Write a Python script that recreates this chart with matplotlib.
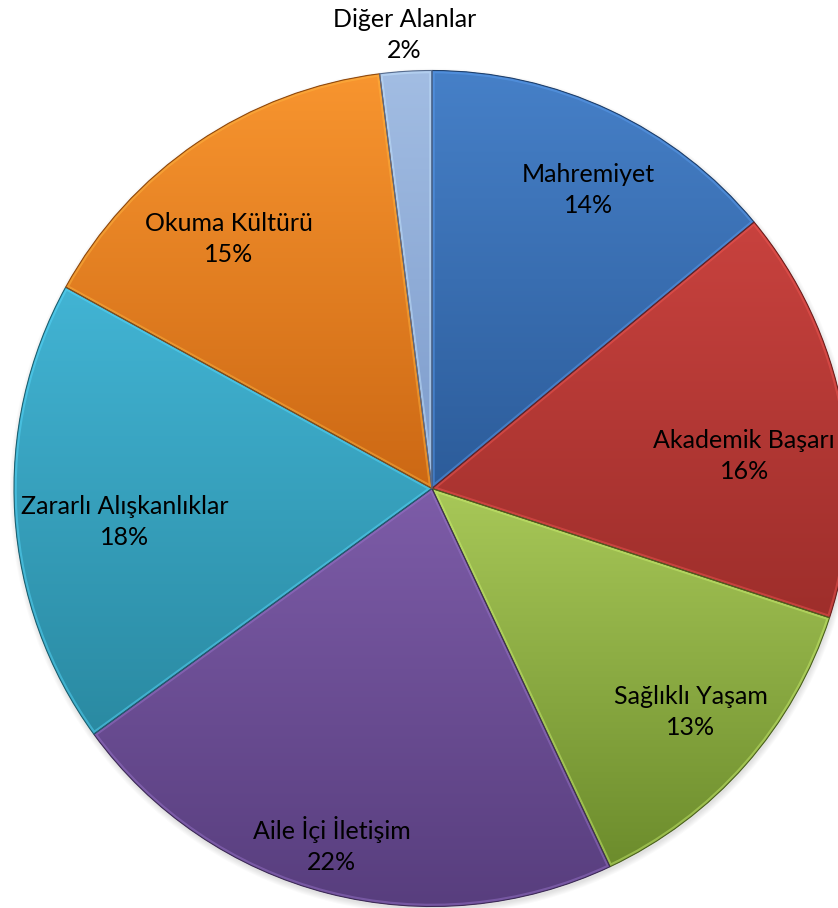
import matplotlib
matplotlib.use("Agg")
import matplotlib.pyplot as plt
import numpy as np
from matplotlib.colors import LinearSegmentedColormap, to_rgb
from matplotlib.patches import PathPatch

# - DATA -
labels = ["Mahremiyet", "Akademik Başarı", "Sağlıklı Yaşam", "Aile İçi İletişim",
          "Zararlı Alışkanlıklar", "Okuma Kültürü", "Diğer Alanlar"]
values = [14, 16, 13, 22, 18, 15, 2]
top_colors = ["#4680C8", "#C8423E", "#A8C858", "#7D5CA8", "#42B4D4", "#F8952F", "#A2BDE3"]
bottom_colors = ["#2C5C9A", "#9E2E2B", "#6C8C2C", "#583E7E", "#2A8AA2", "#CC6814", "#7C9BCB"]
# - DATA -

# label placement: (fraction of radius, angle in degrees)
label_pos = [(0.807, 62.3), (0.751, 6.0), (0.818, -40.8), (0.886, -105.7),
             (0.739, -173.8), (0.770, 129.1), (1.087, 93.5)]

W, H = 838, 908
cx, cy, R = 432, 908 - 488.5, 418

fig = plt.figure(figsize=(W / 100, H / 100), dpi=100)
ax = fig.add_axes([0, 0, 1, 1])

# soft shadow
for i in range(6):
    sh = plt.Circle((cx + 1, cy - 3), R + i, color="black", alpha=0.02, lw=0, zorder=0)
    ax.add_patch(sh)

wedges, _ = ax.pie(values, center=(cx, cy), radius=R, startangle=90, counterclock=False,
                   wedgeprops=dict(linewidth=0), frame=True)

grad = np.linspace(0, 1, 256).reshape(-1, 1)
for w, c_top, c_bot in zip(wedges, top_colors, bottom_colors):
    w.set_facecolor(c_bot)
    w.set_zorder(1)
    path = w.get_path()
    bb = path.get_extents()
    cmap = LinearSegmentedColormap.from_list("g", [c_top, c_bot])
    im = ax.imshow(grad, cmap=cmap, aspect="auto", origin="upper",
                   extent=(bb.x0, bb.x1, bb.y0, bb.y1), zorder=2, interpolation="bilinear")
    im.set_clip_path(w)
    # bevel edges: light inner line plus dark outline
    dark = tuple(np.array(to_rgb(c_bot)) * 0.7)
    light = tuple(np.minimum(np.array(to_rgb(c_top)) * 1.15 + 0.05, 1))
    edge = PathPatch(path, fill=False, edgecolor=light, lw=4, alpha=0.45, zorder=3)
    ax.add_patch(edge)
    edge.set_clip_path(w)
    outline = PathPatch(path, fill=False, edgecolor=dark, lw=0.8, zorder=4)
    ax.add_patch(outline)

for lab, v, (rf, ang) in zip(labels, values, label_pos):
    x = cx + rf * R * np.cos(np.radians(ang))
    y = cy + rf * R * np.sin(np.radians(ang))
    ax.text(x, y, f"{lab}\n{v}%", ha="center", va="center", fontsize=18,
            family=["Lato", "DejaVu Sans"], color="black", linespacing=1.42, zorder=5)

ax.set_xlim(0, W)
ax.set_ylim(0, H)
ax.set_aspect("equal")
ax.axis("off")

fig.savefig("out.png", dpi=100, facecolor="white")
